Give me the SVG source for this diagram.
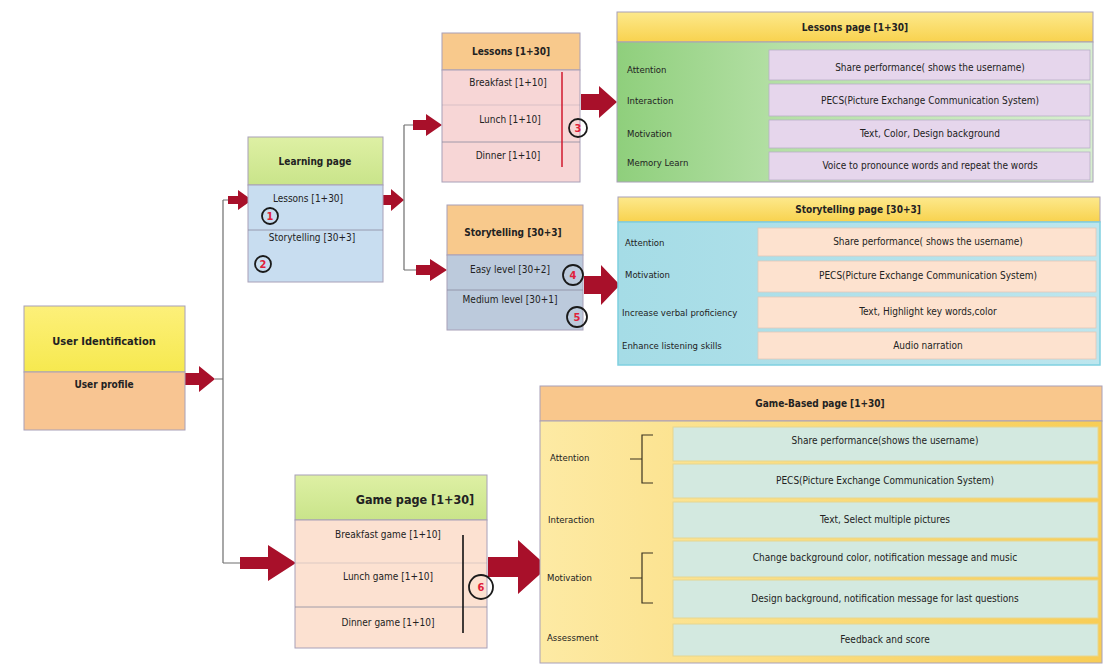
<svg xmlns="http://www.w3.org/2000/svg" width="1115" height="668" viewBox="0 0 1115 668">
  <defs>
    <linearGradient id="gYellowHead" x1="0" y1="0" x2="0" y2="1">
      <stop offset="0" stop-color="#fdf07a"/>
      <stop offset="1" stop-color="#f6e94f"/>
    </linearGradient>
    <linearGradient id="gGoldHead" x1="0" y1="0" x2="0" y2="1">
      <stop offset="0" stop-color="#fde98c"/>
      <stop offset="1" stop-color="#f8d24e"/>
    </linearGradient>
    <linearGradient id="gGreenBody" x1="0" y1="0" x2="1" y2="0">
      <stop offset="0" stop-color="#8fcf7c"/>
      <stop offset="0.35" stop-color="#b5e0a6"/>
      <stop offset="1" stop-color="#d7efcf"/>
    </linearGradient>
    <linearGradient id="gCyanBody" x1="0" y1="0" x2="1" y2="0">
      <stop offset="0" stop-color="#a5dce6"/>
      <stop offset="1" stop-color="#bde6ee"/>
    </linearGradient>
    <linearGradient id="gGoldBody" x1="0" y1="0" x2="1" y2="0">
      <stop offset="0" stop-color="#fdeaa4"/>
      <stop offset="1" stop-color="#f8cd55"/>
    </linearGradient>
    <linearGradient id="gGreenHead" x1="0" y1="0" x2="0" y2="1">
      <stop offset="0" stop-color="#def0a4"/>
      <stop offset="1" stop-color="#c9e48a"/>
    </linearGradient>
  </defs>
  <style>
    text { font-family: "Liberation Sans Narrow", "DejaVu Sans Condensed", "Liberation Sans", sans-serif; fill: #222222; }
    .t { font-size: 10px; text-anchor: middle; }
    .tb { font-size: 11px; font-weight: bold; text-anchor: middle; }
    .lbl { font-size: 9.5px; }
    .box { stroke: #a8a0b8; stroke-width: 1; }
    .div { stroke: #8a8aa0; stroke-width: 0.8; fill: none; }
    .cellL { fill: #e6d6ec; stroke: #b8b0c8; stroke-width: 0.8; }
    .cellP { fill: #fde2cf; stroke: #e0c8b8; stroke-width: 0.8; }
    .cellC { fill: #d3e9e0; stroke: #e6d690; stroke-width: 1; }
    .arrow { fill: #a8102a; }
    .wire { stroke: #6e6e6e; stroke-width: 1.2; fill: none; }
    .ring { fill: none; stroke: #1a1a1a; stroke-width: 1.8; }
    .num { font-size: 11px; font-weight: bold; fill: #e0203a; text-anchor: middle; }
    .brk { stroke: #3a3320; stroke-width: 1.2; fill: none; }
  </style>

  <rect width="1115" height="668" fill="#ffffff"/>

  <!-- connectors -->
  <g id="connectors">
    <!-- trunk from user profile -->
    <polygon class="arrow" points="185,373 199,373 199,366 215,379 199,392 199,385 185,385"/>
    <path class="wire" d="M215,379 H223 M223,200 V563 M223,200 H228 M223,563 H240"/>
    <polygon class="arrow" points="228,196 238,196 238,190 252,200 238,210 238,204 228,204"/>
    <polygon class="arrow" points="240,557 268,557 268,545 296,563 268,581 268,569 240,569"/>
    <!-- learning page fan-out -->
    <polygon class="arrow" points="383,195 391,195 391,189 404,200 391,211 391,205 383,205"/>
    <path class="wire" d="M404,125 V270 M404,125 H413 M404,270 H416"/>
    <polygon class="arrow" points="413,120 426,120 426,114 442,125 426,136 426,130 413,130"/>
    <polygon class="arrow" points="416,265 430,265 430,259 447,270 430,281 430,275 416,275"/>
    <!-- into detail pages -->
    <polygon class="arrow" points="581,94 599,94 599,86 617,102 599,118 599,110 581,110"/>
    <polygon class="arrow" points="584,276 601,276 601,265 620,285 601,305 601,294 584,294"/>
    <polygon class="arrow" points="488,557 518,557 518,540 548,567 518,594 518,577 488,577"/>
  </g>

  <!-- user identification -->
  <g id="user-identification">
    <rect class="box" x="24" y="306" width="161" height="66" fill="url(#gYellowHead)"/>
    <rect class="box" x="24" y="372" width="161" height="58" fill="#f8c592"/>
    <text class="tb" x="104" y="345">User Identification</text>
    <text class="tb" x="104" y="388" style="font-size:10px">User profile</text>
  </g>

  <!-- learning page -->
  <g id="learning-page">
    <rect class="box" x="248" y="137" width="135" height="48" fill="url(#gGreenHead)"/>
    <rect class="box" x="248" y="185" width="135" height="97" fill="#c8ddf0"/>
    <line class="div" x1="248" y1="230" x2="383" y2="230"/>
    <text class="tb" x="315" y="165" style="font-size:10px">Learning page</text>
    <text class="t" x="308" y="202">Lessons [1+30]</text>
    <text class="t" x="312" y="241">Storytelling [30+3]</text>
    <circle class="ring" cx="270" cy="216" r="8"/>
    <text class="num" x="270" y="220">1</text>
    <circle class="ring" cx="263" cy="264" r="8"/>
    <text class="num" x="263" y="268">2</text>
  </g>

  <!-- lessons -->
  <g id="lessons">
    <rect class="box" x="442" y="33" width="138" height="37" fill="#f8c98c"/>
    <rect class="box" x="442" y="70" width="138" height="112" fill="#f7d6d6"/>
    <line class="div" x1="442" y1="105" x2="580" y2="105" stroke-opacity="0.35"/>
    <line class="div" x1="442" y1="142" x2="580" y2="142"/>
    <text class="tb" x="511" y="55" style="font-size:10px">Lessons [1+30]</text>
    <text class="t" x="508" y="86">Breakfast [1+10]</text>
    <text class="t" x="510" y="123">Lunch [1+10]</text>
    <text class="t" x="508" y="159">Dinner [1+10]</text>
    <line x1="562" y1="72" x2="562" y2="167" stroke="#d0182e" stroke-width="1.5"/>
    <circle class="ring" cx="578" cy="128" r="9"/>
    <text class="num" x="578" y="132">3</text>
  </g>

  <!-- lessons page -->
  <g id="lessons-page">
    <rect class="box" x="617" y="12" width="476" height="30" fill="url(#gGoldHead)"/>
    <rect class="box" x="617" y="42" width="476" height="140" fill="url(#gGreenBody)"/>
    <text class="tb" x="855" y="31" style="font-size:10px">Lessons page [1+30]</text>
    <rect class="cellL" x="769" y="50" width="321" height="30"/>
    <rect class="cellL" x="769" y="84" width="321" height="32"/>
    <rect class="cellL" x="769" y="120" width="321" height="28"/>
    <rect class="cellL" x="769" y="152" width="321" height="28"/>
    <text class="t" x="930" y="71">Share performance( shows the username)</text>
    <text class="t" x="930" y="104">PECS(Picture Exchange Communication System)</text>
    <text class="t" x="930" y="137">Text, Color, Design background</text>
    <text class="t" x="930" y="169">Voice to pronounce words and repeat the words</text>
    <text class="lbl" x="627" y="73">Attention</text>
    <text class="lbl" x="627" y="104">Interaction</text>
    <text class="lbl" x="627" y="137">Motivation</text>
    <text class="lbl" x="627" y="166">Memory Learn</text>
  </g>

  <!-- storytelling -->
  <g id="storytelling">
    <rect class="box" x="447" y="205" width="136" height="50" fill="#f8c98c"/>
    <rect class="box" x="447" y="255" width="136" height="75" fill="#bccadc"/>
    <line class="div" x1="447" y1="290" x2="583" y2="290"/>
    <text class="tb" x="513" y="236" style="font-size:10px">Storytelling [30+3]</text>
    <text class="t" x="510" y="273">Easy level [30+2]</text>
    <text class="t" x="510" y="303">Medium level [30+1]</text>
    <circle class="ring" cx="573" cy="275" r="10"/>
    <text class="num" x="573" y="279">4</text>
    <circle class="ring" cx="577" cy="317" r="10"/>
    <text class="num" x="577" y="321">5</text>
  </g>

  <!-- storytelling page -->
  <g id="storytelling-page">
    <rect class="box" x="618" y="197" width="482" height="25" fill="url(#gGoldHead)"/>
    <rect x="618" y="222" width="482" height="143" fill="url(#gCyanBody)" stroke="#7fd0e0" stroke-width="1.5"/>
    <text class="tb" x="858" y="213" style="font-size:10px">Storytelling page [30+3]</text>
    <rect class="cellP" x="758" y="228" width="338" height="28"/>
    <rect class="cellP" x="758" y="261" width="338" height="31"/>
    <rect class="cellP" x="758" y="297" width="338" height="31"/>
    <rect class="cellP" x="758" y="332" width="338" height="27"/>
    <text class="t" x="928" y="245">Share performance( shows the username)</text>
    <text class="t" x="928" y="279">PECS(Picture Exchange Communication System)</text>
    <text class="t" x="928" y="315">Text, Highlight key words,color</text>
    <text class="t" x="928" y="349">Audio narration</text>
    <text class="lbl" x="625" y="246">Attention</text>
    <text class="lbl" x="625" y="278">Motivation</text>
    <text class="lbl" x="622" y="316">Increase verbal proficiency</text>
    <text class="lbl" x="622" y="349">Enhance listening skills</text>
  </g>

  <!-- game page -->
  <g id="game-page">
    <rect class="box" x="295" y="475" width="192" height="45" fill="url(#gGreenHead)"/>
    <rect class="box" x="295" y="520" width="192" height="128" fill="#fce1d1"/>
    <line class="div" x1="295" y1="563" x2="487" y2="563" stroke-opacity="0.35"/>
    <line class="div" x1="295" y1="607" x2="487" y2="607"/>
    <text class="tb" x="415" y="504" style="font-size:12.5px">Game page  [1+30]</text>
    <text class="t" x="388" y="538">Breakfast game [1+10]</text>
    <text class="t" x="388" y="580">Lunch game [1+10]</text>
    <text class="t" x="388" y="626">Dinner game [1+10]</text>
    <line x1="463" y1="535" x2="463" y2="633" stroke="#111" stroke-width="1.6"/>
    <circle class="ring" cx="481" cy="587" r="12"/>
    <text class="num" x="481" y="591">6</text>
  </g>

  <!-- game-based page -->
  <g id="game-based-page">
    <rect class="box" x="540" y="386" width="562" height="35" fill="#f9c78c"/>
    <rect class="box" x="540" y="421" width="562" height="242" fill="url(#gGoldBody)"/>
    <text class="tb" x="820" y="407" style="font-size:10px">Game-Based page [1+30]</text>
    <rect class="cellC" x="673" y="427" width="425" height="34"/>
    <rect class="cellC" x="673" y="464" width="425" height="34"/>
    <rect class="cellC" x="673" y="502" width="425" height="36"/>
    <rect class="cellC" x="673" y="541" width="425" height="36"/>
    <rect class="cellC" x="673" y="580" width="425" height="38"/>
    <rect class="cellC" x="673" y="624" width="425" height="32"/>
    <text class="t" x="885" y="444">Share performance(shows the username)</text>
    <text class="t" x="885" y="484">PECS(Picture Exchange Communication System)</text>
    <text class="t" x="885" y="523">Text, Select multiple pictures</text>
    <text class="t" x="885" y="561">Change background color, notification message and music</text>
    <text class="t" x="885" y="602">Design background, notification message for last questions</text>
    <text class="t" x="885" y="643">Feedback and score</text>
    <text class="lbl" x="550" y="461">Attention</text>
    <text class="lbl" x="548" y="523">Interaction</text>
    <text class="lbl" x="547" y="581">Motivation</text>
    <text class="lbl" x="547" y="641">Assessment</text>
    <path class="brk" d="M653,435 H642 V483 H653 M630,459 H642"/>
    <path class="brk" d="M653,553 H642 V603 H653 M630,578 H642"/>
  </g>
</svg>
